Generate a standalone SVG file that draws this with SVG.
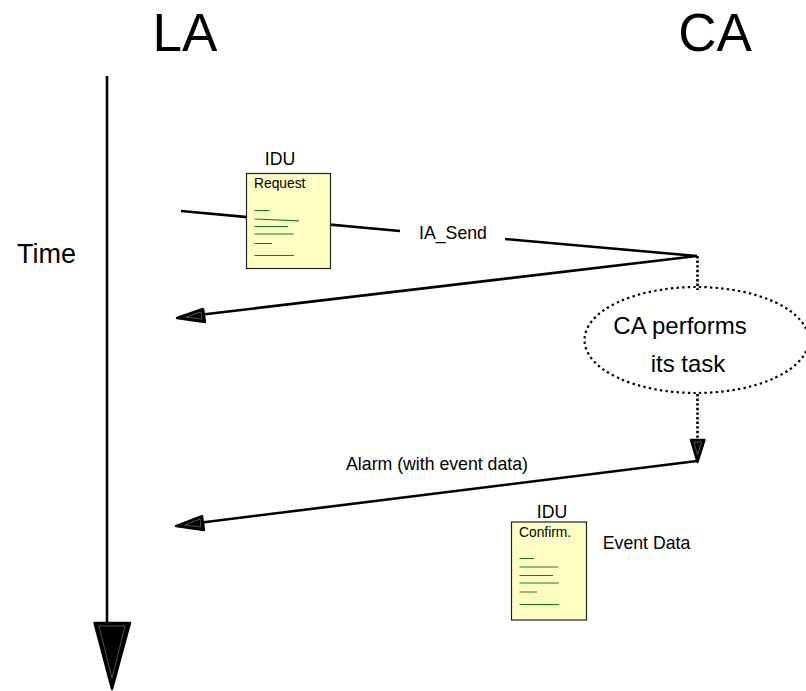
<svg xmlns="http://www.w3.org/2000/svg" width="806" height="691" viewBox="0 0 806 691">
<style>
text{font-family:"Liberation Sans",Arial,sans-serif;fill:#000}
.l{fill:none;stroke:#000;stroke-width:2.6}
.d{fill:none;stroke:#000;stroke-width:2.6;stroke-dasharray:2.4 2.2}
.h{fill:#000;stroke:#000;stroke-width:2.4;stroke-linejoin:round}
.i{fill:none;stroke:#666;stroke-width:0.8}
.p{fill:#ffffc4;stroke:#222;stroke-width:1.2}
.g{stroke:#0a8a0a;stroke-width:1.2;fill:none}
.big{font-size:53px}.m{font-size:24px}.s{font-size:17.7px}.t{font-size:13.8px}
</style>
<rect width="806" height="691" fill="#fff"/>
<g id="connectors">
<path class="l" d="M107 76V623"/>
<polygon class="h" points="94.500,623 130,623 112,689"/>
<path class="i" d="M99 626H125L112 678Z"/>
<path class="l" d="M181 211L400 231M505 239L697 256L190 316"/>
<polygon class="h" points="177,318 203,309 205,322"/>
<path class="i" d="M186 317L201 312L202 319Z"/>
<path class="l" d="M697 461L190 524"/>
<polygon class="h" points="176,526 202,516 204,530"/>
<path class="i" d="M185 525L200 519L201 527Z"/>
<path class="d" d="M697.500 256V290M697.500 394V440"/>
<polygon class="h" points="691,440 704.500,440 697.500,462"/>
<path class="i" d="M694 442H701.500L697.500 455Z"/>
</g>
<g id="la"><text class="big" x="185" y="51" text-anchor="middle">LA</text></g>
<g id="ca"><text class="big" x="715" y="51" text-anchor="middle">CA</text></g>
<g id="time"><text x="46.500" y="263" text-anchor="middle" font-size="27">Time</text></g>
<g id="ia-send"><text class="s" x="453" y="239" text-anchor="middle">IA_Send</text></g>
<g id="alarm"><text class="s" x="437" y="469.500" text-anchor="middle">Alarm (with event data)</text></g>
<g id="event-data"><text class="s" x="646.500" y="549" text-anchor="middle">Event Data</text></g>
<g id="task">
<ellipse cx="696.500" cy="340" rx="112" ry="53" fill="none" stroke="#000" stroke-width="2.2" stroke-dasharray="2.4 3.2"/>
<text class="m" x="680" y="334" text-anchor="middle">CA performs</text>
<text class="m" x="688" y="372" text-anchor="middle">its task</text>
</g>
<g id="idu-request">
<text class="s" x="280" y="165" text-anchor="middle">IDU</text>
<rect class="p" x="246.500" y="173.500" width="84" height="95"/>
<text class="t" x="254" y="188">Request</text>
<path class="g" d="M254.500 210.500H269.500M254.500 219L299 220.800M254.500 226.500H288M254.500 234H293.500M254.500 243.500H272M254.500 255.500H294"/>
</g>
<g id="idu-confirm">
<text class="s" x="552" y="518" text-anchor="middle">IDU</text>
<rect class="p" x="511.500" y="522" width="75" height="98"/>
<text class="t" x="519" y="537">Confirm.</text>
<path class="g" d="M519.500 558.500H534M519.500 567H558M519.500 575.500H553M519.500 583H559M519.500 592H537M519.500 604.500H559"/>
</g>
</svg>
